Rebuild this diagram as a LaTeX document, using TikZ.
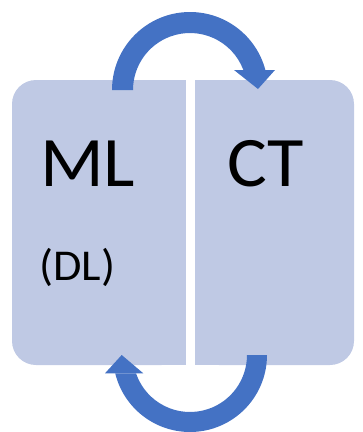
\documentclass[tikz,border=0pt]{standalone}
\usepackage{fontspec}
\setmainfont{Carlito}
\newfontfamily\widefont[FakeStretch=1.05]{Carlito}
\usetikzlibrary{calc}
\definecolor{panelblue}{RGB}{191,201,228}
\definecolor{arrowblue}{RGB}{68,114,196}

\begin{document}
\begin{tikzpicture}[x=1pt, y=1pt,
		panel/.style={fill=panelblue},
		band/.style={fill=arrowblue},
		bigtext/.style={anchor=base west, inner sep=0pt, font=\widefont\fontsize{71}{71}\selectfont}]

				\useasboundingbox (0,0) rectangle (363,-432);

				\fill [panel, rounded corners=24pt] (12,-80) rectangle (185.5,-365);
				\fill [panel] (100,-80) rectangle (185.5,-365);
				\fill [panel, rounded corners=24pt] (195,-80) rectangle (354,-365);
				\fill [panel] (195,-80) rectangle (280,-365);

				\node [bigtext] (ml) at (40,-186) {ML};
				\node [bigtext] (ct) at (227,-186) {CT};
				\node [anchor=base west, inner sep=0pt, font=\widefont\fontsize{44}{44}\selectfont] (dl) at (39,-280) {(DL)};

				%------
				\coordinate (c1) at (190,-90);
				\coordinate (c2) at (190,-355);

				\fill [band] ($(c1)+(-78,0)$) arc [start angle=180, end angle={asin(20/78)}, radius=78]
					-- ($(c1)+({asin(20/57)}:57)$) arc [start angle={asin(20/57)}, end angle=180, radius=57] -- cycle;
				\fill [band] ($(c1)+(44,20)$) -- ($(c1)+(85,20)$) -- ($(c1)+(68,1)$) -- cycle;

				\fill [band] ($(c2)+(77,0)$) arc [start angle=0, end angle={-180+asin(18.3/77)}, radius=77]
					-- ($(c2)+({-180+asin(18.3/57)}:57)$) arc [start angle={-180+asin(18.3/57)}, end angle=0, radius=57] -- cycle;
				\fill [band] ($(c2)+(-85,-18.3)$) -- ($(c2)+(-46.7,-18.3)$) -- ($(c2)+(-68.3,0)$) -- cycle;
\end{tikzpicture}
\end{document}
